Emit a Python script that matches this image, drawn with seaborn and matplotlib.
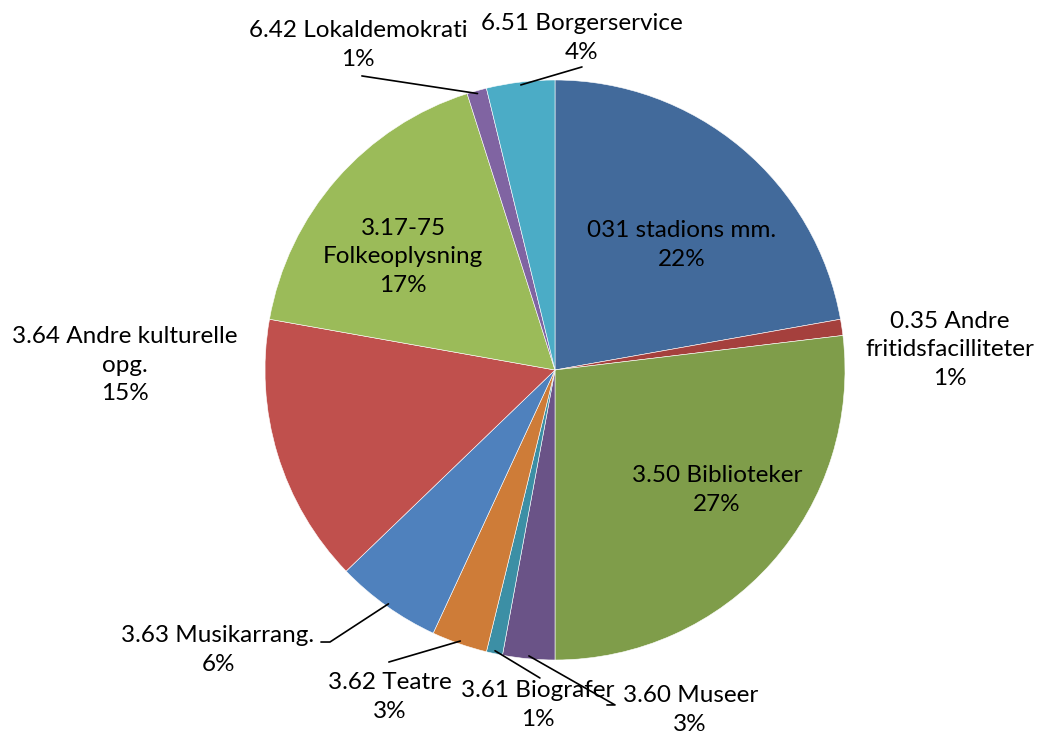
import numpy as np
import matplotlib
matplotlib.use('Agg')
import matplotlib.pyplot as plt
import seaborn as sns

# data (share of total, percent)
labels = ['031 stadions mm.', '0.35 Andre\nfritidsfacilliteter', '3.50 Biblioteker',
          '3.60 Museer', '3.61 Biografer', '3.62 Teatre', '3.63 Musikarrang.',
          '3.64 Andre kulturelle\nopg.', '3.17-75\nFolkeoplysning',
          '6.42 Lokaldemokrati', '6.51 Borgerservice']
values = [22.2, 0.9, 26.9, 2.9, 0.9, 3.1, 5.9, 15.0, 17.3, 1.1, 3.8]
colors = ['#426A9B', '#A5403D', '#7F9D4A', '#6A5387', '#3C8FA5', '#CE7C38',
          '#4F81BD', '#C0504D', '#9BBB59', '#8064A2', '#4BACC6']

# label centres (data units, radius = 1) and leader line ends (None = no line)
label_pos = [(0.438, 0.431), (1.362, 0.069), (0.559, -0.414), (0.466, -1.172),
             (-0.059, -1.155), (-0.569, -1.128), (-1.162, -0.966), (-1.483, 0.017),
             (-0.524, 0.390), (-0.679, 1.121), (0.093, 1.145)]
leader_end = [None, None, None, [(0.207, -1.155), (0.179, -1.155)],
              [(-0.052, -1.062)], [(-0.573, -1.007)],
              [(-0.776, -0.938), (-0.807, -0.938)], None, None,
              [(-0.666, 1.014)], [(0.093, 1.045)]]

sns.set_theme(style='white')
plt.rcParams['font.family'] = ['Lato', 'DejaVu Sans']

fig = plt.figure(figsize=(10.4, 7.37), dpi=100)
ax = fig.add_axes([0, 0, 1, 1])
wedges, _ = ax.pie(values, colors=colors, startangle=90, counterclock=False,
                   radius=1, center=(0, 0),
                   wedgeprops=dict(edgecolor='white', linewidth=0.4))

total = sum(values)
for w, lab, v, pos, ends in zip(wedges, labels, values, label_pos, leader_end):
    ax.text(pos[0], pos[1], f'{lab}\n{v / total * 100:.0f}%', ha='center', va='center',
            fontsize=17.5, color='black', linespacing=1.43)
    if ends is not None:
        mid = np.deg2rad((w.theta1 + w.theta2) / 2)
        pts = [(np.cos(mid) * 0.99, np.sin(mid) * 0.99)] + ends
        xs, ys = zip(*pts)
        ax.plot(xs, ys, color='black', lw=1.2)

ax.set_xlim(-555 / 290, (1040 - 555) / 290)
ax.set_ylim(-367 / 290, 370 / 290)
ax.set_aspect('auto')
ax.axis('off')

fig.savefig('out.png', dpi=100)
plt.close(fig)
